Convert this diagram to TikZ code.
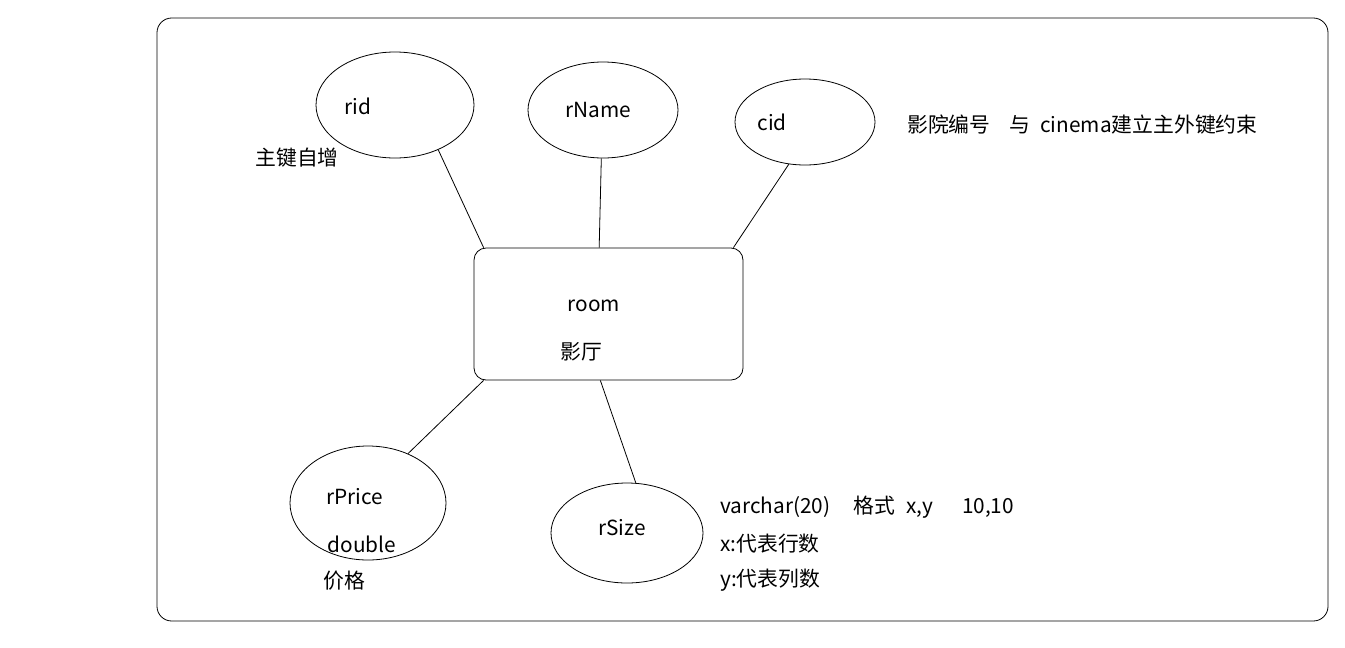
\documentclass[tikz,border=0pt]{standalone}
\usepackage{fontspec}
\setmainfont{Noto Sans CJK SC}
\usetikzlibrary{shapes.geometric}
\begin{document}
\begin{tikzpicture}[x=0.75pt,y=-0.75pt,
  attr/.style={draw,ellipse,inner sep=0pt,line width=0.6pt},
  entity/.style={draw,rectangle,rounded corners=9pt,inner sep=0pt,line width=0.6pt,minimum width=201.75pt,minimum height=99pt},
  txt/.style={inner sep=0pt,font=\fontsize{15.6pt}{18pt}\selectfont},
  link/.style={line width=0.6pt}]
\useasboundingbox (0,0) rectangle (1345,647);
\draw[line width=0.6pt,rounded corners=11pt] (157,18) rectangle (1328,621);
% entity
\node[entity] (room) at (608.5,314) {};
\node[txt] (roomt) at (594,306) {room};
\node[txt] (roomc) at (581,352) {影厅};
% attributes
\node[attr,minimum width=118.5pt,minimum height=79.5pt] (rid) at (395,105) {};
\node[attr,minimum width=112.5pt,minimum height=72pt] (rname) at (603,110) {};
\node[attr,minimum width=105pt,minimum height=64.5pt] (cid) at (805,122) {};
\node[attr,minimum width=117pt,minimum height=85.5pt] (rprice) at (368,503) {};
\node[attr,minimum width=114pt,minimum height=75pt] (rsize) at (627,533) {};
% labels
\node[txt] (ridt) at (358,106) {rid};
\node[txt] (rnamet) at (598,110) {rName};
\node[txt] (cidt) at (772,122) {cid};
\node[txt] (rpricet) at (355,497) {rPrice};
\node[txt] (doublet) at (362,544) {double};
\node[txt] (rsizet) at (622,528) {rSize};
% notes
\node[txt] (n1) at (297,158) {主键自增};
\node[txt,anchor=west] (n2) at (907,125) {影院编号\hspace{0.9em}与\hspace{0.5em}cinema建立主外键约束};
\node[txt] (n3) at (344,581) {价格};
\node[txt,anchor=west] (n4) at (720,507) {varchar(20)\hspace{1.1em}格式\hspace{0.55em}x,y\hspace{1.4em}10,10};
\node[txt,anchor=west] (n5) at (720,544) {x:代表行数};
\node[txt,anchor=west] (n6) at (720,580) {y:代表列数};
% connectors
\draw[link] (rid.-46) -- (room.152);
\draw[link] (rname.-92.6) -- (room.98);
\draw[link] (cid.-111) -- (room.28.5);
\draw[link] (room.-152.8) -- (rprice.51);
\draw[link] (room.-97) -- (rsize.80.5);
\end{tikzpicture}
\end{document}
